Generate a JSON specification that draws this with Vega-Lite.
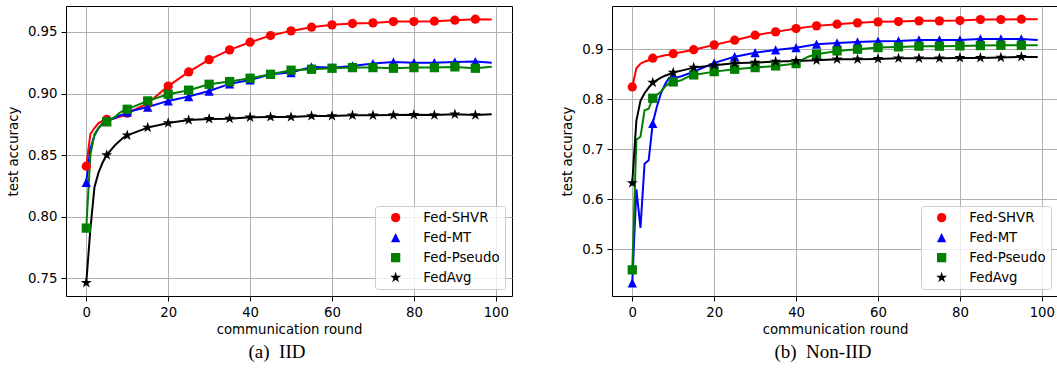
{
 "$schema": "https://vega.github.io/schema/vega-lite/v6.json",
 "padding": {"left": 5, "top": 5, "right": 0, "bottom": 0},
 "spacing": 47,
 "resolve": {"scale": {"color": "independent", "shape": "independent"}, "legend": {"color": "independent", "shape": "independent"}},
 "config": {
  "view": {"stroke": "black", "strokeWidth": 1},
  "font": "DejaVu Sans",
  "axis": {"domain": false, "grid": true, "gridColor": "#b0b0b0", "gridWidth": 1, "tickColor": "black", "tickSize": 5, "tickWidth": 1, "labelFont": "DejaVu Sans", "labelFontSize": 13.3, "labelColor": "black", "labelPadding": 4, "titleFont": "DejaVu Sans", "titleFontSize": 13.3, "titleFontWeight": "normal", "titleColor": "black", "labelFlush": false, "labelOverlap": false},
  "axisY": {"titlePadding": 7},
  "axisX": {"titlePadding": 4},
  "legend": {"orient": "bottom-right", "offset": 7, "fillColor": "rgba(255,255,255,0.8)", "strokeColor": "#cccccc", "cornerRadius": 3, "padding": 5, "labelFont": "DejaVu Sans", "labelFontSize": 13.3, "labelColor": "black", "symbolSize": 86, "symbolOffset": 9, "labelOffset": 21, "rowPadding": 6, "symbolStrokeWidth": 0, "symbolOpacity": 1},
  "title": {"font": "Liberation Serif", "fontSize": 19, "fontWeight": "normal", "color": "black"}
 },
 "datasets": {
  "iid": [
   {"method":"Fed-SHVR","round":0,"acc":0.841},{"method":"Fed-SHVR","round":1,"acc":0.867},{"method":"Fed-SHVR","round":2,"acc":0.872},{"method":"Fed-SHVR","round":3,"acc":0.876},{"method":"Fed-SHVR","round":4,"acc":0.878},{"method":"Fed-SHVR","round":5,"acc":0.879},{"method":"Fed-SHVR","round":6,"acc":0.879},{"method":"Fed-SHVR","round":7,"acc":0.880},{"method":"Fed-SHVR","round":8,"acc":0.881},{"method":"Fed-SHVR","round":9,"acc":0.882},{"method":"Fed-SHVR","round":10,"acc":0.884},{"method":"Fed-SHVR","round":15,"acc":0.892},{"method":"Fed-SHVR","round":20,"acc":0.906},{"method":"Fed-SHVR","round":25,"acc":0.9175},{"method":"Fed-SHVR","round":30,"acc":0.9275},{"method":"Fed-SHVR","round":35,"acc":0.9354},{"method":"Fed-SHVR","round":40,"acc":0.9416},{"method":"Fed-SHVR","round":45,"acc":0.947},{"method":"Fed-SHVR","round":50,"acc":0.9508},{"method":"Fed-SHVR","round":55,"acc":0.9538},{"method":"Fed-SHVR","round":60,"acc":0.9557},{"method":"Fed-SHVR","round":65,"acc":0.9568},{"method":"Fed-SHVR","round":70,"acc":0.9573},{"method":"Fed-SHVR","round":75,"acc":0.9584},{"method":"Fed-SHVR","round":80,"acc":0.9584},{"method":"Fed-SHVR","round":85,"acc":0.9587},{"method":"Fed-SHVR","round":90,"acc":0.9595},{"method":"Fed-SHVR","round":95,"acc":0.9603},{"method":"Fed-SHVR","round":99,"acc":0.960},
   {"method":"Fed-MT","round":0,"acc":0.828},{"method":"Fed-MT","round":1,"acc":0.855},{"method":"Fed-MT","round":2,"acc":0.866},{"method":"Fed-MT","round":3,"acc":0.872},{"method":"Fed-MT","round":4,"acc":0.876},{"method":"Fed-MT","round":5,"acc":0.878},{"method":"Fed-MT","round":6,"acc":0.879},{"method":"Fed-MT","round":7,"acc":0.880},{"method":"Fed-MT","round":8,"acc":0.882},{"method":"Fed-MT","round":9,"acc":0.883},{"method":"Fed-MT","round":10,"acc":0.885},{"method":"Fed-MT","round":15,"acc":0.889},{"method":"Fed-MT","round":20,"acc":0.894},{"method":"Fed-MT","round":25,"acc":0.8975},{"method":"Fed-MT","round":30,"acc":0.902},{"method":"Fed-MT","round":35,"acc":0.9078},{"method":"Fed-MT","round":40,"acc":0.911},{"method":"Fed-MT","round":45,"acc":0.9156},{"method":"Fed-MT","round":50,"acc":0.917},{"method":"Fed-MT","round":55,"acc":0.9216},{"method":"Fed-MT","round":60,"acc":0.921},{"method":"Fed-MT","round":65,"acc":0.9224},{"method":"Fed-MT","round":70,"acc":0.9243},{"method":"Fed-MT","round":75,"acc":0.9256},{"method":"Fed-MT","round":80,"acc":0.925},{"method":"Fed-MT","round":85,"acc":0.925},{"method":"Fed-MT","round":90,"acc":0.9256},{"method":"Fed-MT","round":95,"acc":0.9259},{"method":"Fed-MT","round":99,"acc":0.925},
   {"method":"Fed-Pseudo","round":0,"acc":0.7908},{"method":"Fed-Pseudo","round":1,"acc":0.850},{"method":"Fed-Pseudo","round":2,"acc":0.867},{"method":"Fed-Pseudo","round":3,"acc":0.872},{"method":"Fed-Pseudo","round":4,"acc":0.875},{"method":"Fed-Pseudo","round":5,"acc":0.877},{"method":"Fed-Pseudo","round":6,"acc":0.879},{"method":"Fed-Pseudo","round":7,"acc":0.881},{"method":"Fed-Pseudo","round":8,"acc":0.884},{"method":"Fed-Pseudo","round":9,"acc":0.886},{"method":"Fed-Pseudo","round":10,"acc":0.8872},{"method":"Fed-Pseudo","round":15,"acc":0.894},{"method":"Fed-Pseudo","round":20,"acc":0.8994},{"method":"Fed-Pseudo","round":25,"acc":0.9027},{"method":"Fed-Pseudo","round":30,"acc":0.9075},{"method":"Fed-Pseudo","round":35,"acc":0.9097},{"method":"Fed-Pseudo","round":40,"acc":0.9124},{"method":"Fed-Pseudo","round":45,"acc":0.9156},{"method":"Fed-Pseudo","round":50,"acc":0.9189},{"method":"Fed-Pseudo","round":55,"acc":0.9197},{"method":"Fed-Pseudo","round":60,"acc":0.9205},{"method":"Fed-Pseudo","round":65,"acc":0.921},{"method":"Fed-Pseudo","round":70,"acc":0.921},{"method":"Fed-Pseudo","round":75,"acc":0.9205},{"method":"Fed-Pseudo","round":80,"acc":0.921},{"method":"Fed-Pseudo","round":85,"acc":0.921},{"method":"Fed-Pseudo","round":90,"acc":0.9216},{"method":"Fed-Pseudo","round":95,"acc":0.9205},{"method":"Fed-Pseudo","round":99,"acc":0.9218},
   {"method":"FedAvg","round":0,"acc":0.7464},{"method":"FedAvg","round":1,"acc":0.790},{"method":"FedAvg","round":2,"acc":0.824},{"method":"FedAvg","round":3,"acc":0.836},{"method":"FedAvg","round":4,"acc":0.844},{"method":"FedAvg","round":5,"acc":0.850},{"method":"FedAvg","round":6,"acc":0.854},{"method":"FedAvg","round":7,"acc":0.858},{"method":"FedAvg","round":8,"acc":0.861},{"method":"FedAvg","round":9,"acc":0.864},{"method":"FedAvg","round":10,"acc":0.866},{"method":"FedAvg","round":15,"acc":0.8723},{"method":"FedAvg","round":20,"acc":0.876},{"method":"FedAvg","round":25,"acc":0.8785},{"method":"FedAvg","round":30,"acc":0.8794},{"method":"FedAvg","round":35,"acc":0.8796},{"method":"FedAvg","round":40,"acc":0.8807},{"method":"FedAvg","round":45,"acc":0.881},{"method":"FedAvg","round":50,"acc":0.881},{"method":"FedAvg","round":55,"acc":0.8818},{"method":"FedAvg","round":60,"acc":0.8818},{"method":"FedAvg","round":65,"acc":0.8823},{"method":"FedAvg","round":70,"acc":0.8823},{"method":"FedAvg","round":75,"acc":0.8826},{"method":"FedAvg","round":80,"acc":0.8828},{"method":"FedAvg","round":85,"acc":0.8826},{"method":"FedAvg","round":90,"acc":0.8832},{"method":"FedAvg","round":95,"acc":0.8826},{"method":"FedAvg","round":99,"acc":0.8832}
  ],
  "noniid": [
   {"method":"Fed-SHVR","round":0,"acc":0.8246},{"method":"Fed-SHVR","round":1,"acc":0.862},{"method":"Fed-SHVR","round":2,"acc":0.871},{"method":"Fed-SHVR","round":3,"acc":0.875},{"method":"Fed-SHVR","round":4,"acc":0.878},{"method":"Fed-SHVR","round":5,"acc":0.882},{"method":"Fed-SHVR","round":6,"acc":0.884},{"method":"Fed-SHVR","round":7,"acc":0.886},{"method":"Fed-SHVR","round":8,"acc":0.888},{"method":"Fed-SHVR","round":9,"acc":0.889},{"method":"Fed-SHVR","round":10,"acc":0.891},{"method":"Fed-SHVR","round":15,"acc":0.899},{"method":"Fed-SHVR","round":20,"acc":0.9086},{"method":"Fed-SHVR","round":25,"acc":0.918},{"method":"Fed-SHVR","round":30,"acc":0.928},{"method":"Fed-SHVR","round":35,"acc":0.9346},{"method":"Fed-SHVR","round":40,"acc":0.9412},{"method":"Fed-SHVR","round":45,"acc":0.9466},{"method":"Fed-SHVR","round":50,"acc":0.950},{"method":"Fed-SHVR","round":55,"acc":0.9526},{"method":"Fed-SHVR","round":60,"acc":0.9546},{"method":"Fed-SHVR","round":65,"acc":0.9552},{"method":"Fed-SHVR","round":70,"acc":0.9566},{"method":"Fed-SHVR","round":75,"acc":0.9566},{"method":"Fed-SHVR","round":80,"acc":0.9572},{"method":"Fed-SHVR","round":85,"acc":0.9592},{"method":"Fed-SHVR","round":90,"acc":0.9592},{"method":"Fed-SHVR","round":95,"acc":0.960},{"method":"Fed-SHVR","round":99,"acc":0.960},
   {"method":"Fed-MT","round":0,"acc":0.4332},{"method":"Fed-MT","round":1,"acc":0.620},{"method":"Fed-MT","round":2,"acc":0.543},{"method":"Fed-MT","round":3,"acc":0.671},{"method":"Fed-MT","round":4,"acc":0.678},{"method":"Fed-MT","round":5,"acc":0.752},{"method":"Fed-MT","round":6,"acc":0.785},{"method":"Fed-MT","round":7,"acc":0.812},{"method":"Fed-MT","round":8,"acc":0.830},{"method":"Fed-MT","round":9,"acc":0.843},{"method":"Fed-MT","round":10,"acc":0.844},{"method":"Fed-MT","round":11,"acc":0.844},{"method":"Fed-MT","round":12,"acc":0.846},{"method":"Fed-MT","round":13,"acc":0.849},{"method":"Fed-MT","round":14,"acc":0.852},{"method":"Fed-MT","round":15,"acc":0.855},{"method":"Fed-MT","round":20,"acc":0.8726},{"method":"Fed-MT","round":25,"acc":0.885},{"method":"Fed-MT","round":30,"acc":0.893},{"method":"Fed-MT","round":35,"acc":0.8986},{"method":"Fed-MT","round":40,"acc":0.903},{"method":"Fed-MT","round":45,"acc":0.910},{"method":"Fed-MT","round":50,"acc":0.9126},{"method":"Fed-MT","round":55,"acc":0.9146},{"method":"Fed-MT","round":60,"acc":0.916},{"method":"Fed-MT","round":65,"acc":0.9166},{"method":"Fed-MT","round":70,"acc":0.9186},{"method":"Fed-MT","round":75,"acc":0.9186},{"method":"Fed-MT","round":80,"acc":0.9186},{"method":"Fed-MT","round":85,"acc":0.9206},{"method":"Fed-MT","round":90,"acc":0.9206},{"method":"Fed-MT","round":95,"acc":0.9206},{"method":"Fed-MT","round":99,"acc":0.9186},
   {"method":"Fed-Pseudo","round":0,"acc":0.4592},{"method":"Fed-Pseudo","round":1,"acc":0.719},{"method":"Fed-Pseudo","round":2,"acc":0.725},{"method":"Fed-Pseudo","round":3,"acc":0.778},{"method":"Fed-Pseudo","round":4,"acc":0.781},{"method":"Fed-Pseudo","round":5,"acc":0.802},{"method":"Fed-Pseudo","round":6,"acc":0.809},{"method":"Fed-Pseudo","round":7,"acc":0.815},{"method":"Fed-Pseudo","round":8,"acc":0.825},{"method":"Fed-Pseudo","round":9,"acc":0.832},{"method":"Fed-Pseudo","round":10,"acc":0.8346},{"method":"Fed-Pseudo","round":11,"acc":0.836},{"method":"Fed-Pseudo","round":12,"acc":0.838},{"method":"Fed-Pseudo","round":13,"acc":0.842},{"method":"Fed-Pseudo","round":14,"acc":0.846},{"method":"Fed-Pseudo","round":15,"acc":0.8486},{"method":"Fed-Pseudo","round":20,"acc":0.8552},{"method":"Fed-Pseudo","round":25,"acc":0.860},{"method":"Fed-Pseudo","round":30,"acc":0.8632},{"method":"Fed-Pseudo","round":35,"acc":0.8666},{"method":"Fed-Pseudo","round":40,"acc":0.8712},{"method":"Fed-Pseudo","round":41,"acc":0.876},{"method":"Fed-Pseudo","round":42,"acc":0.881},{"method":"Fed-Pseudo","round":43,"acc":0.885},{"method":"Fed-Pseudo","round":44,"acc":0.888},{"method":"Fed-Pseudo","round":45,"acc":0.890},{"method":"Fed-Pseudo","round":50,"acc":0.8966},{"method":"Fed-Pseudo","round":55,"acc":0.900},{"method":"Fed-Pseudo","round":60,"acc":0.9032},{"method":"Fed-Pseudo","round":65,"acc":0.9046},{"method":"Fed-Pseudo","round":70,"acc":0.906},{"method":"Fed-Pseudo","round":75,"acc":0.906},{"method":"Fed-Pseudo","round":80,"acc":0.9066},{"method":"Fed-Pseudo","round":85,"acc":0.9072},{"method":"Fed-Pseudo","round":90,"acc":0.908},{"method":"Fed-Pseudo","round":95,"acc":0.908},{"method":"Fed-Pseudo","round":99,"acc":0.908},
   {"method":"FedAvg","round":0,"acc":0.6326},{"method":"FedAvg","round":1,"acc":0.757},{"method":"FedAvg","round":2,"acc":0.797},{"method":"FedAvg","round":3,"acc":0.812},{"method":"FedAvg","round":4,"acc":0.823},{"method":"FedAvg","round":5,"acc":0.8332},{"method":"FedAvg","round":6,"acc":0.838},{"method":"FedAvg","round":7,"acc":0.843},{"method":"FedAvg","round":8,"acc":0.847},{"method":"FedAvg","round":9,"acc":0.850},{"method":"FedAvg","round":10,"acc":0.8532},{"method":"FedAvg","round":15,"acc":0.8632},{"method":"FedAvg","round":20,"acc":0.868},{"method":"FedAvg","round":25,"acc":0.872},{"method":"FedAvg","round":30,"acc":0.8732},{"method":"FedAvg","round":35,"acc":0.8752},{"method":"FedAvg","round":40,"acc":0.8766},{"method":"FedAvg","round":45,"acc":0.878},{"method":"FedAvg","round":50,"acc":0.880},{"method":"FedAvg","round":55,"acc":0.880},{"method":"FedAvg","round":60,"acc":0.8806},{"method":"FedAvg","round":65,"acc":0.882},{"method":"FedAvg","round":70,"acc":0.882},{"method":"FedAvg","round":75,"acc":0.882},{"method":"FedAvg","round":80,"acc":0.8826},{"method":"FedAvg","round":85,"acc":0.8826},{"method":"FedAvg","round":90,"acc":0.8832},{"method":"FedAvg","round":95,"acc":0.8846},{"method":"FedAvg","round":99,"acc":0.8846}
  ]
 },
 "hconcat": [
  {
   "width": 446, "height": 290,
   "data": {"name": "iid"},
   "title": {"text": "(a)\u00a0\u00a0IID", "orient": "bottom", "anchor": "middle", "baseline": "top", "dx": -12, "offset": 7},
   "encoding": {
    "x": {"field": "round", "type": "quantitative", "scale": {"domain": [-4.95, 103.95], "nice": false, "zero": false}, "axis": {"values": [0, 20, 40, 60, 80, 100], "title": "communication round"}},
    "y": {"field": "acc", "type": "quantitative", "scale": {"domain": [0.7357, 0.971], "nice": false, "zero": false}, "axis": {"values": [0.75, 0.8, 0.85, 0.9, 0.95], "format": ".2f", "title": "test accuracy"}}
   },
   "layer": [
    {"transform": [{"filter": "datum.method === 'Fed-SHVR'"}], "mark": {"type": "line", "strokeWidth": 2, "color": "#ff0000"}, "encoding": {}},
    {"transform": [{"filter": "datum.method === 'Fed-MT'"}], "mark": {"type": "line", "strokeWidth": 2, "color": "#0000ff"}, "encoding": {}},
    {"transform": [{"filter": "datum.method === 'Fed-Pseudo'"}], "mark": {"type": "line", "strokeWidth": 2, "color": "#008000"}, "encoding": {}},
    {"transform": [{"filter": "datum.method === 'FedAvg'"}], "mark": {"type": "line", "strokeWidth": 2, "color": "#000000"}, "encoding": {}},
    {"transform": [{"filter": "datum.round % 5 === 0"}],
     "mark": {"type": "point", "filled": true, "size": 86, "opacity": 1, "strokeWidth": 0},
     "encoding": {
      "color": {"field": "method", "type": "nominal", "scale": {"domain": ["Fed-SHVR", "Fed-MT", "Fed-Pseudo", "FedAvg"], "range": ["#ff0000", "#0000ff", "#008000", "#000000"]}, "legend": {"title": null}},
      "shape": {"field": "method", "type": "nominal", "scale": {"domain": ["Fed-SHVR", "Fed-MT", "Fed-Pseudo", "FedAvg"], "range": ["circle", "M0,-1L1,1L-1,1Z", "square", "M0,-1.25L0.281,-0.386L1.189,-0.386L0.454,0.148L0.735,1.011L0,0.478L-0.735,1.011L-0.454,0.148L-1.189,-0.386L-0.281,-0.386Z"]}, "legend": {"title": null}}
     }}
   ]
  },
  {
   "width": 446, "height": 290,
   "data": {"name": "noniid"},
   "title": {"text": "(b)\u00a0\u00a0Non-IID", "orient": "bottom", "anchor": "middle", "baseline": "top", "dx": -12, "offset": 7},
   "encoding": {
    "x": {"field": "round", "type": "quantitative", "scale": {"domain": [-4.95, 103.95], "nice": false, "zero": false}, "axis": {"values": [0, 20, 40, 60, 80, 100], "title": "communication round"}},
    "y": {"field": "acc", "type": "quantitative", "scale": {"domain": [0.4069, 0.9863], "nice": false, "zero": false}, "axis": {"values": [0.5, 0.6, 0.7, 0.8, 0.9], "format": ".1f", "title": "test accuracy"}}
   },
   "layer": [
    {"transform": [{"filter": "datum.method === 'Fed-SHVR'"}], "mark": {"type": "line", "strokeWidth": 2, "color": "#ff0000"}, "encoding": {}},
    {"transform": [{"filter": "datum.method === 'Fed-MT'"}], "mark": {"type": "line", "strokeWidth": 2, "color": "#0000ff"}, "encoding": {}},
    {"transform": [{"filter": "datum.method === 'Fed-Pseudo'"}], "mark": {"type": "line", "strokeWidth": 2, "color": "#008000"}, "encoding": {}},
    {"transform": [{"filter": "datum.method === 'FedAvg'"}], "mark": {"type": "line", "strokeWidth": 2, "color": "#000000"}, "encoding": {}},
    {"transform": [{"filter": "datum.round % 5 === 0"}],
     "mark": {"type": "point", "filled": true, "size": 86, "opacity": 1, "strokeWidth": 0},
     "encoding": {
      "color": {"field": "method", "type": "nominal", "scale": {"domain": ["Fed-SHVR", "Fed-MT", "Fed-Pseudo", "FedAvg"], "range": ["#ff0000", "#0000ff", "#008000", "#000000"]}, "legend": {"title": null}},
      "shape": {"field": "method", "type": "nominal", "scale": {"domain": ["Fed-SHVR", "Fed-MT", "Fed-Pseudo", "FedAvg"], "range": ["circle", "M0,-1L1,1L-1,1Z", "square", "M0,-1.25L0.281,-0.386L1.189,-0.386L0.454,0.148L0.735,1.011L0,0.478L-0.735,1.011L-0.454,0.148L-1.189,-0.386L-0.281,-0.386Z"]}, "legend": {"title": null}}
     }}
   ]
  }
 ]
}
